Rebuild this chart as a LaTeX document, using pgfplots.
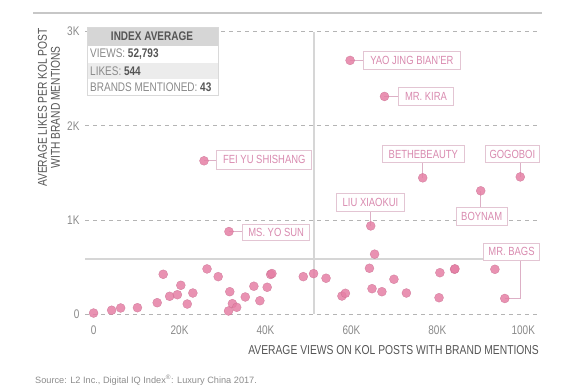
\documentclass[border=0pt]{standalone}
\usepackage{fontspec}
\setmainfont{Liberation Sans}[FakeStretch=0.8]
\newfontfamily\srcfont{Liberation Sans}
\usepackage{pgfplots}
\pgfplotsset{compat=1.18}
\definecolor{pt}{HTML}{E57FA5}
\definecolor{lab}{HTML}{D98AAF}
\definecolor{labbox}{HTML}{E3C5D3}
\definecolor{conn}{HTML}{DDB0C6}
\definecolor{avg}{HTML}{D6D6D6}
\definecolor{gridc}{HTML}{B4B4B4}
\definecolor{txt}{HTML}{555555}
\definecolor{tickc}{HTML}{8A8A8A}
\definecolor{hdr}{HTML}{D6D6D6}
\definecolor{row}{HTML}{ECECEC}

\pgfplotstableread{
x y
0 10
4200 40
6300 64
10200 67
14800 120
16200 422
17700 188
19500 205
20300 305
21800 106
23100 223
26400 479
29000 397
31700 237
32300 110
33300 71
31400 32
35300 181
37300 295
38700 141
40400 284
41200 420
41500 430
48800 397
51200 429
54100 380
57800 191
58600 220
64200 486
65400 636
64800 269
69900 369
67100 237
72800 223
80600 439
84000 475
84100 480
80400 173
93400 475
95700 165
59700 2695
67700 2312
25700 1628
76600 1447
99300 1457
90100 1309
64500 936
31500 876
}\kols

\begin{document}
\begin{tikzpicture}[x=1pt,y=1pt,
  lbl/.style={draw=labbox, fill=white, text=lab, inner sep=0pt, line width=0.8pt,
    font=\fontsize{11.8}{12}\selectfont}]
\path[use as bounding box] (0,0) rectangle (581,387);
\draw[color=black!22, line width=1.5pt] (33,374) -- (542,374);
\begin{axis}[
  at={(85pt,73pt)}, anchor=south west, scale only axis,
  width=453.3pt, height=282.3pt,
  xmin=-2000, xmax=103500, ymin=0, ymax=3000,
  scaled x ticks=false, scaled y ticks=false,
  axis line style={draw=none},
  major tick length=0pt,
  xtick={0,20000,40000,60000,80000,100000},
  xticklabels={0,20K,40K,60K,80K,100K},
  ytick={0,1000,2000,3000},
  yticklabels={0,1K,2K,3K},
  ymajorgrids,
  grid style={gridc, dash pattern=on 4pt off 4pt, line width=0.6pt},
  ticklabel style={font=\fontsize{12.5}{13}\selectfont, text=tickc},
  xticklabel style={yshift=-8pt},
  yticklabel style={xshift=-2pt},
  clip=false,
]
\addplot[avg, line width=2pt, forget plot] coordinates {(51400,0) (51400,3000)};
\addplot[avg, line width=2pt, forget plot] coordinates {(-2000,588) (103500,588)};

% connectors
\draw[conn, line width=0.8pt] (axis cs:59700,2695) -- (axis cs:62810,2695);
\draw[conn, line width=0.8pt] (axis cs:67700,2312) -- (axis cs:70958,2312);
\draw[conn, line width=0.8pt] (axis cs:25700,1628) -- (axis cs:28681,1628);
\draw[conn, line width=0.8pt] (axis cs:76600,1447) -- (axis cs:76600,1608);
\draw[conn, line width=0.8pt] (axis cs:99300,1457) -- (axis cs:99300,1608);
\draw[conn, line width=0.8pt] (axis cs:90100,1309) -- (axis cs:90100,1134);
\draw[conn, line width=0.8pt] (axis cs:64500,936) -- (axis cs:64500,1095);
\draw[conn, line width=0.8pt] (axis cs:31500,876) -- (axis cs:34734,876);
\draw[conn, line width=0.8pt] (axis cs:95700,165) -- (axis cs:99290,165) -- (axis cs:99290,574);

% label boxes
\node[lbl, minimum width=96.7pt, minimum height=17.3pt] at (axis cs:74077,2696) {YAO JING BIAN'ER};
\node[lbl, minimum width=55pt, minimum height=18pt] at (axis cs:77360,2317) {MR. KIRA};
\node[lbl, minimum width=95pt, minimum height=18.3pt] at (axis cs:39739,1638) {FEI YU SHISHANG};
\node[lbl, minimum width=81.7pt, minimum height=17pt] at (axis cs:76743,1698) {BETHEBEAUTY};
\node[lbl, minimum width=54.3pt, minimum height=17pt] at (axis cs:97462,1698) {GOGOBOI};
\node[lbl, minimum width=51.6pt, minimum height=17.7pt] at (axis cs:90326,1040) {BOYNAM};
\node[lbl, minimum width=67.3pt, minimum height=17.7pt] at (axis cs:64451,1189) {LIU XIAOKUI};
\node[lbl, minimum width=66.6pt, minimum height=16pt] at (axis cs:42486,871) {MS. YO SUN};
\node[lbl, minimum width=56pt, minimum height=16.7pt] at (axis cs:97264,663) {MR. BAGS};

\addplot[only marks, mark=*, mark size=4.5pt,
  mark options={fill=pt, draw=pt!88!black, line width=0.3pt, opacity=0.85}]
  table[x=x, y=y] {\kols};
\end{axis}

% index average box
\fill[hdr] (87,341) rectangle (218,360);
\fill[white] (87,324) rectangle (218,341);
\fill[row] (87,308) rectangle (218,324);
\fill[white] (87,292) rectangle (218,308);
\draw[black!15, line width=0.6pt] (87,292) rectangle (218,360);
\node[font=\bfseries\fontsize{12.5}{13}\selectfont, text=txt] at (152,350.5) {INDEX AVERAGE};
\node[anchor=west, inner sep=0pt, font=\fontsize{12.5}{13}\selectfont, text=tickc] at (90,332.5) {VIEWS: \textcolor{txt}{\bfseries 52,793}};
\node[anchor=west, inner sep=0pt, font=\fontsize{12.5}{13}\selectfont, text=tickc] at (90,316) {LIKES: \textcolor{txt}{\bfseries 544}};
\node[anchor=west, inner sep=0pt, font=\fontsize{12.5}{13}\selectfont, text=tickc] at (90,300) {BRANDS MENTIONED: \textcolor{txt}{\bfseries 43}};

% axis titles
\node[rotate=90, anchor=east, align=center, inner sep=0pt, text=txt,
  font=\fontsize{12.8}{13}\selectfont] at (49,359) {AVERAGE LIKES PER KOL POST\\WITH BRAND MENTIONS};
\node[anchor=east, inner sep=0pt, text=txt, font=\fontsize{12.9}{14}\selectfont] at (539,37) {AVERAGE VIEWS ON KOL POSTS WITH BRAND MENTIONS};
\node[anchor=west, inner sep=0pt, text=black!45, font=\srcfont\fontsize{9.2}{10}\selectfont] at (35,7) {Source: L2 Inc., Digital IQ Index\textsuperscript{®}: Luxury China 2017.};
\end{tikzpicture}
\end{document}
